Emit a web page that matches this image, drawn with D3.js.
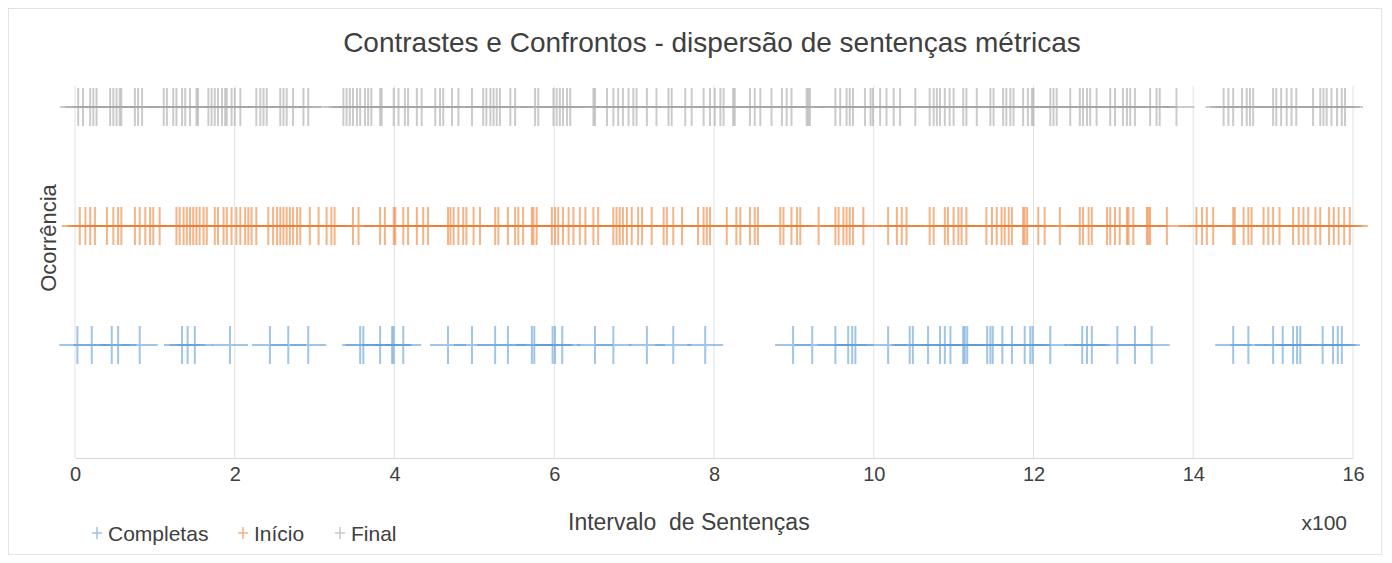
<!DOCTYPE html>
<html>
<head>
<meta charset="utf-8">
<script src="https://cdn.jsdelivr.net/npm/d3@7"></script>
<style>
  body { margin: 0; background: #fff; }
  text { font-family: "Liberation Sans", Arial, sans-serif; fill: #404040; }
</style>
</head>
<body>
<div id="chart"></div>
<script>
// sentence positions (sentence index, axis shows them in hundreds)
const completas = [3, 21, 46, 54, 81, 134, 141, 150, 194, 244, 267, 292, 357, 361, 382, 397, 399, 411,
  467, 497, 526, 542, 572, 575, 598, 601, 610, 651, 674, 716, 749, 789,
  899, 923, 952, 968, 973, 977, 1018, 1045, 1049, 1068, 1083, 1089, 1096, 1112, 1114, 1117,
  1142, 1146, 1149, 1161, 1173, 1189, 1196, 1199, 1221, 1261, 1267, 1273, 1305, 1327, 1348,
  1450, 1469, 1500, 1512, 1525, 1530, 1534, 1562, 1575, 1581, 1586];

const inicio = [6, 13, 19, 25, 40, 48, 54, 58, 75, 81, 88, 94, 98, 106, 127, 131, 136, 140, 144, 148,
  152, 156, 161, 165, 175, 179, 186, 190, 196, 202, 207, 213, 217, 221, 227, 242, 248, 253, 257,
  261, 265, 269, 273, 278, 282, 294, 305, 315, 321, 325, 348, 355, 382, 388,
  399, 401, 411, 417, 428, 436, 442, 467, 470, 474, 480, 486, 490, 499, 507, 526, 530, 542, 551,
  555, 561, 572, 574, 578, 597, 601, 605, 611, 618, 624, 632, 639, 649, 655, 674, 678, 682, 686,
  691, 697, 705, 710, 722, 737, 741, 749, 760, 780, 787,
  791, 795, 816, 828, 833, 845, 851, 855, 883, 887, 897, 904, 908, 931, 952, 956, 962, 966, 970,
  974, 987, 1018, 1029, 1035, 1041, 1070, 1075, 1089, 1093, 1100, 1106, 1110, 1116, 1141, 1148,
  1154, 1160, 1164, 1169, 1173, 1187, 1189, 1192,
  1206, 1214, 1233, 1258, 1262, 1269, 1273, 1292, 1296, 1302, 1308, 1317, 1319, 1325, 1342, 1344,
  1346, 1367, 1404, 1411, 1417, 1425, 1450, 1452, 1463, 1469, 1473, 1488, 1494, 1500, 1508, 1525,
  1532, 1538, 1544, 1553, 1559, 1570, 1576, 1582, 1589, 1596];

const final = [4, 10, 19, 23, 27, 44, 48, 52, 56, 58, 75, 79, 84, 111, 115, 123, 127, 134, 138, 144,
  152, 154, 167, 171, 175, 179, 184, 188, 190, 196, 200, 207, 227, 232, 236, 240, 257, 261, 265,
  273, 286, 292, 336, 340, 344, 348, 353, 357, 363, 367, 371, 382, 384,
  399, 405, 413, 417, 428, 434, 451, 457, 461, 472, 480, 497, 511, 515, 520, 524, 528, 532, 545,
  551, 576, 580, 599, 603, 607, 611, 616, 620, 649, 651, 666, 674, 680, 686, 693, 699, 703, 716,
  728, 743, 747, 764, 772, 787,
  795, 801, 808, 812, 824, 826, 845, 851, 858, 872, 885, 891, 897, 916, 918, 920, 952, 958, 966,
  970, 974, 989, 996, 999, 1008, 1016, 1025, 1033, 1052, 1070, 1075, 1079, 1083, 1089, 1095, 1100,
  1112, 1116, 1129, 1146, 1150, 1162, 1166, 1171, 1175, 1187,
  1193, 1198, 1200, 1221, 1225, 1229, 1246, 1258, 1262, 1267, 1271, 1279, 1296, 1302, 1312, 1317,
  1321, 1327, 1346, 1354, 1358, 1379, 1438, 1444, 1450, 1461, 1467, 1471, 1475, 1500, 1504, 1510,
  1517, 1523, 1529, 1550, 1559, 1563, 1567, 1573, 1580, 1586, 1590];

const seriesNames = ["Completas", "Início", "Final"];
const seriesColors = ["#5b9bd5", "#ed7d31", "#a5a5a5"];
const seriesLevel = [1, 2, 3];
const xTicks = [0, 200, 400, 600, 800, 1000, 1200, 1400, 1600];

const W = 1392, H = 563;
const margin = {top: 86, right: 39, bottom: 105, left: 75};

const svg = d3.select("#chart").append("svg")
    .attr("width", W)
    .attr("height", H);

// chart border
svg.append("rect")
    .attr("x", 8.5).attr("y", 8.5)
    .attr("width", 1373).attr("height", 546)
    .attr("fill", "none")
    .attr("stroke", "#e3e3e3");

const x = d3.scaleLinear()
    .domain([0, 1600])
    .range([margin.left, W - margin.right]);

const y = d3.scaleLinear()
    .domain([0, 3])
    .range([464, 107]);

const bottom = H - margin.bottom;

// vertical gridlines
svg.append("g")
  .selectAll("line")
  .data(xTicks)
  .join("line")
    .attr("x1", d => x(d)).attr("x2", d => x(d))
    .attr("y1", margin.top).attr("y2", bottom)
    .attr("stroke", "#e2e2e2")
    .attr("stroke-width", 1);

// x axis
const xAxis = svg.append("g")
    .attr("transform", `translate(0,${bottom})`)
    .call(d3.axisBottom(x).tickValues(xTicks).tickSize(0).tickPadding(9).tickFormat(d => d / 100));
xAxis.select(".domain").attr("stroke", "#d9d9d9");
xAxis.selectAll("text")
    .attr("font-size", 20)
    .attr("font-family", "Liberation Sans, Arial, sans-serif")
    .attr("fill", "#404040");

// plus markers
const allSeries = [completas, inicio, final];
const hw = 18, hh = 19;
allSeries.forEach((vals, i) => {
  svg.append("g")
    .selectAll("path")
    .data(vals)
    .join("path")
      .attr("d", d => {
        const cx = x(d), cy = y(seriesLevel[i]);
        return `M${cx - hw},${cy}H${cx + hw}M${cx},${cy - hh}V${cy + hh}`;
      })
      .attr("fill", "none")
      .attr("stroke", seriesColors[i])
      .attr("stroke-width", 2)
      .attr("stroke-opacity", 0.58);
});

// title
svg.append("text")
    .attr("x", 712).attr("y", 52)
    .attr("text-anchor", "middle")
    .attr("font-size", 28)
    .attr("fill", "#333")
    .text("Contrastes e Confrontos - dispersão de sentenças métricas");

// axis titles
svg.append("text")
    .attr("x", 568).attr("y", 530)
    .attr("font-size", 23)
    .style("white-space", "pre")
    .text("Intervalo  de Sentenças");

svg.append("text")
    .attr("x", 1347).attr("y", 530)
    .attr("text-anchor", "end")
    .attr("font-size", 21)
    .text("x100");

svg.append("text")
    .attr("transform", "translate(56,238) rotate(-90)")
    .attr("text-anchor", "middle")
    .attr("font-size", 22)
    .text("Ocorrência");

// legend
const legendX = [97, 243, 340];
const legend = svg.append("g")
  .selectAll("g")
  .data(seriesNames)
  .join("g")
    .attr("transform", (d, i) => `translate(${legendX[i]},533)`);
legend.append("path")
    .attr("d", "M-5,0H5M0,-6V6")
    .attr("stroke", (d, i) => seriesColors[i])
    .attr("stroke-opacity", 0.6)
    .attr("stroke-width", 1.5);
legend.append("text")
    .attr("x", 11).attr("y", 8)
    .attr("font-size", 21)
    .text(d => d);
</script>
</body>
</html>
